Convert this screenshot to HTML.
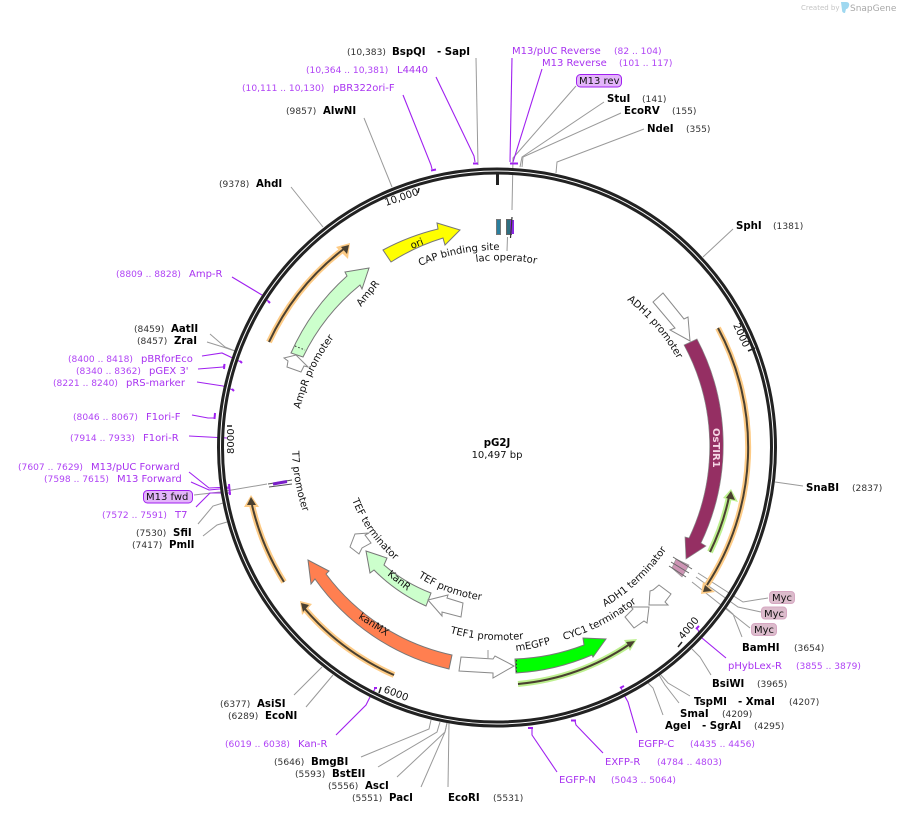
<!DOCTYPE html>
<html><head><meta charset="utf-8"><style>
html,body{margin:0;padding:0;background:#fff}
svg{display:block}
text{font-family:"DejaVu Sans","Liberation Sans",sans-serif;font-size:10px;fill:#111}
.b{font-weight:bold;font-size:10.2px;fill:#000}
.n{font-size:9.1px;fill:#333}
.p{fill:#a832f0}
.pn{font-size:9.1px;fill:#b044f5}
.g{fill:none;stroke:#999;stroke-width:1}
.v{fill:none;stroke:#a020f0;stroke-width:1.1}
.m{fill:none;stroke:#a020f0;stroke-width:2}
.w{fill:#fff;stroke:#8a8a8a;stroke-width:1}
.o{fill:none;stroke:#fdcb86;stroke-width:6}
.d{fill:none;stroke:#4a4030;stroke-width:2}
.lg{fill:none;stroke:#bdf08f;stroke-width:6}
</style></head><body>
<svg width="898" height="814" viewBox="0 0 898 814" xmlns="http://www.w3.org/2000/svg">
<rect width="898" height="814" fill="#fff"/>

<!-- branding -->
<text x="801" y="10" style="font-size:7px;fill:#c4c4c4">Created by</text>
<path d="M841,2 h5 q4,0 3,4 q-1,3 -3,3 l-1,4 q-3,0 -3,-3 z" fill="#9fd8f0"/>
<text x="850" y="11" style="font-size:9px;fill:#a8a8a8">SnapGene</text>

<!-- leader lines (gray) -->
<path class="g" d="M476,58 L478,165"/>
<path class="g" d="M364,118 L392,187"/>
<path class="g" d="M291,187 L323,227"/>
<path class="g" d="M576,86 L513,158 L512,210"/>
<path class="g" d="M604,102 L522,157 L520,167"/>
<path class="g" d="M621,113 L523,157 L522,167"/>
<path class="g" d="M644,129 L557,162 L556,173"/>
<path class="g" d="M733,229 L703,257"/>
<path class="g" d="M803,486 L775,482"/>
<path class="g" d="M768,598 L743,602 L698,573"/>
<path class="g" d="M761,612 L738,607 L696,577"/>
<path class="g" d="M750,628 L692,582"/>
<path class="g" d="M742,637 L733,614 L725,607"/>
<path class="g" d="M711,675 L700,657 L692,649"/>
<path class="g" d="M690,696 L668,683 L660,674"/>
<path class="g" d="M679,703 L665,685 L659,675"/>
<path class="g" d="M663,715 L653,688 L648,683"/>
<path class="g" d="M448,787 L449,723"/>
<path class="g" d="M421,787 L445,732 L447,723"/>
<path class="g" d="M397,777 L445,732 L447,723"/>
<path class="g" d="M378,767 L437,732 L440,722"/>
<path class="g" d="M361,757 L429,729 L431,720"/>
<path class="g" d="M306,707 L333,675"/>
<path class="g" d="M294,695 L322,667"/>
<path class="g" d="M210,334 L225,347 L235,351"/>
<path class="g" d="M207,342 L223,347 L235,351"/>
<path class="g" d="M194,495 L220,492 L267,484"/>
<path class="g" d="M198,524 L213,506 L223,503"/>
<path class="g" d="M203,536 L217,525 L227,522"/>

<!-- leader lines (purple) -->
<path class="v" d="M436,77 L474,156 L475,162"/>
<path class="m" d="M473,163.5 H478"/>
<path class="v" d="M403,95 L431,165 L432,169"/>
<path class="m" d="M431,170.5 L436,169.5"/>
<path class="v" d="M512,58 L510,162"/>
<path class="v" d="M542,69 L513,162"/>
<path class="m" d="M510,163.5 H518"/>
<path class="v" d="M232,277 L262,295 L269,302"/>
<path class="m" d="M268,301 L270,303"/>
<path class="v" d="M202,356 L222,353 L241,362"/>
<path class="m" d="M240,361 L242,363"/>
<path class="v" d="M198,369 L223,367 L225,364"/>
<path class="m" d="M224.500,364 L224,369"/>
<path class="v" d="M197,382 L223,386 L233,390"/>
<path class="m" d="M232,389 L234,391"/>
<path class="v" d="M192,415 L208,418 L214,418"/>
<path class="m" d="M215,413 L214.500,419"/>
<path class="v" d="M189,436 L227,438"/>
<path class="v" d="M189,472 L209,488 L230,487"/>
<path class="v" d="M191,482 L209,490 L230,488"/>
<path class="v" d="M196,507 L210,493 L231,493"/>
<path class="m" d="M229,484 L230,495"/>
<path class="v" d="M726,658 L702,638 L697,628"/>
<path class="m" d="M696,629 L699,626"/>
<path class="v" d="M637,733 L628,702 L623,693 L621,687"/>
<path class="m" d="M620,688 L624,686"/>
<path class="v" d="M603,753 L576,725 L575,721"/>
<path class="m" d="M571,720.500 L576,720.500"/>
<path class="v" d="M557,772 L532,735 L532,729"/>
<path class="m" d="M528,728 L533,728"/>
<path class="v" d="M336,735 L366,705 L371,695 L375,689"/>
<path class="m" d="M374,688 L377,688"/>

<!-- backbone -->
<circle cx="497" cy="447.500" r="276.500" fill="none" stroke="#222" stroke-width="7"/>
<circle cx="497" cy="447.500" r="276.500" fill="none" stroke="#fff" stroke-width="1"/>

<!-- ticks -->
<path d="M497.500,173 V185" stroke="#222" stroke-width="3"/>
<path d="M419,188 L418,193 M755,348 L748,351 M682,642 L678,647 M381,687 L379,693 M227,426 L232,426" stroke="#222" stroke-width="1.500"/>
<text transform="translate(386,206) rotate(-19)" style="font-size:10px">10,000</text>
<text transform="translate(733,325) rotate(65)" style="font-size:10px">2000</text>
<text transform="translate(683,640) rotate(-50)" style="font-size:10px">4000</text>
<text transform="translate(383,692) rotate(21)" style="font-size:10px">6000</text>
<text transform="translate(234,454) rotate(-90)" style="font-size:10px">8000</text>

<!-- primer-binding/orange arcs -->
<path class="o" d="M269,342 A251,251 0 0 1 345,248"/>
<path d="M350,243 L336,247 L348,259 Z" fill="#fdcb86"/>
<path class="d" d="M269,342 A251,251 0 0 1 345,248"/>
<path d="M349,245 L341,247 L347,254 Z" fill="#4a4030"/>

<path class="o" d="M718,328 A251,251 0 0 1 707,585"/>
<path d="M701,594 L703,582 L715,592 Z" fill="#fdcb86"/>
<path class="d" d="M718,328 A251,251 0 0 1 707,585"/>
<path d="M703,592 L705,585 L712,591 Z" fill="#4a4030"/>

<path class="o" d="M394,675 A251,251 0 0 1 305,609"/>
<path d="M300,601 L312,604 L302,615 Z" fill="#fdcb86"/>
<path class="d" d="M394,675 A251,251 0 0 1 305,609"/>
<path d="M301,603 L309,605 L303,612 Z" fill="#4a4030"/>

<path class="o" d="M284,582 A251,251 0 0 1 252,505"/>
<path d="M251,495 L259,507 L244,507 Z" fill="#fdcb86"/>
<path class="d" d="M284,582 A251,251 0 0 1 252,505"/>
<path d="M251,497 L256,505 L247,505 Z" fill="#4a4030"/>

<path class="lg" d="M710,552 A238,238 0 0 0 729,497"/>
<path d="M731,489 L738,502 L723,498 Z" fill="#bdf08f"/>
<path class="d" d="M710,552 A238,238 0 0 0 729,497"/>
<path d="M731,491 L735,500 L726,498 Z" fill="#4a4030"/>

<path class="lg" d="M518,684 A238,238 0 0 0 630,644"/>
<path d="M637,639 L624,640 L630,651 Z" fill="#bdf08f"/>
<path class="d" d="M518,684 A238,238 0 0 0 630,644"/>
<path d="M635,641 L626,642 L630,648 Z" fill="#4a4030"/>

<!-- main features -->
<path d="M697,339 A227,227 0 0 1 701,543 L706,546 L686,559 L685,537 L689,538 A213,213 0 0 0 684,345 Z" fill="#952f63" stroke="#888" stroke-width=".7"/>
<text transform="translate(713,428) rotate(90)" style="font-size:10px;fill:#f5d5e5;font-weight:bold">OsTIR1</text>

<path d="M383,250 A228,228 0 0 1 438,229 L437,223 L460,230 L445,245 L443,238 A214,214 0 0 0 391,262 Z" fill="#ffff00" stroke="#777" stroke-width="1"/>
<text transform="translate(412,249) rotate(-22)" style="font-size:10px">ori</text>

<path d="M291,353 A226,226 0 0 1 347,276 L345,272 L369,268 L362,289 L360,285 A212,212 0 0 0 303,357 Z" fill="#ccffcc" stroke="#777" stroke-width="1"/>
<path d="M295,346 L305,350" stroke="#333" stroke-width="1" stroke-dasharray="1.500,2" fill="none"/>
<text transform="translate(361,307) rotate(-51)" style="font-size:10px">AmpR</text>

<path d="M452,655 A213,213 0 0 1 326,574 L329,571 L308,560 L311,584 L315,579 A226,226 0 0 0 449,669 Z" fill="#ff7f50" stroke="#777" stroke-width="1"/>
<text transform="translate(358,618) rotate(33)" style="font-size:10px">kanMX</text>

<path d="M431,593 A160,160 0 0 1 384,565 L387,558 L366,551 L370,573 L374,570 A174,174 0 0 0 426,606 Z" fill="#ccffcc" stroke="#777" stroke-width="1"/>
<text transform="translate(387,575) rotate(38)" style="font-size:10px">KanR</text>

<path d="M516,673 A226,226 0 0 0 592,655 L593,657 L606,639 L583,638 L584,645 A213,213 0 0 1 515,659 Z" fill="#00ff00" stroke="#777" stroke-width="1"/>
<path d="M516.500,660 V673" stroke="#333" stroke-width="1" stroke-dasharray="1.500,2" fill="none"/>

<!-- white arrows -->
<path class="w" d="M461,657 L459,671 L493,673 L493,678 L514,666 L495,656 L493,659 Z"/>
<path class="w" d="M663,293 L653,302 L675,328 L670,330 L690,341 L688,317 L684,319 Z"/>
<path class="w" d="M287,367 L301,372 L304,366 L308,367 L296,355 L284,358 L288,361 Z"/>
<path class="w" d="M355,534 L350,547 L359,554 L362,548 L371,543 L365,535 L369,533 Z"/>
<path class="w" d="M428,600 L448,595 L447,598 L463,603 L461,617 L442,612 L442,616 Z"/>
<path class="w" d="M649,605 L650,591 L653,590 L659,585 L671,594 L665,602 L668,605 Z"/>
<path class="w" d="M649,607 L647,623 L644,621 L634,628 L625,617 L633,609 L631,607 Z"/>
<path class="g" d="M488,650 L488,658"/>

<!-- CAP / lac -->
<rect x="496.500" y="219.500" width="4" height="15" fill="#2a7f9e" stroke="#777" stroke-width="1"/>
<rect x="506.500" y="219.500" width="5" height="15" fill="#2f6f80" stroke="#666" stroke-width="1"/>
<rect x="510" y="220" width="4" height="14" fill="#8a2be2"/>
<path d="M512,217 L510.500,238" stroke="#333" stroke-width="1.200"/>
<path class="g" d="M507.500,237 L507,251"/>

<!-- T7 feature -->
<path d="M268,484 L292,480 M269,487 L292,484" stroke="#555" stroke-width="1"/>
<path d="M273,484 L287,481.500" stroke="#7a20c8" stroke-width="3"/>

<!-- Myc features -->
<path d="M676,559 L689,565 L682,577 L672,568 Z" fill="#cd94b4" stroke="#999" stroke-width=".7"/>
<path d="M673,557 L692,569 M671,562 L689,573 M669,566 L686,577" stroke="#666" stroke-width="1"/>

<!-- curved labels -->
<defs>
<path id="t1" d="M420,266 A197,197 0 0 1 502,250"/>
<path id="t2" d="M476,262 A187,187 0 0 1 542,265"/>
<path id="t3" d="M300,409 A198,198 0 0 1 340,330"/>
<path id="t4" d="M292,451 A206,206 0 0 0 306,520"/>
<path id="t5" d="M352,500 A153,153 0 0 0 402,566"/>
<path id="t6" d="M418,577 A153,153 0 0 0 490,601"/>
<path id="t7" d="M450,633 A193,193 0 0 0 530,638"/>
<path id="t8" d="M516,651 A204,204 0 0 0 556,642"/>
<path id="t9" d="M564,640 A205,205 0 0 0 642,598"/>
<path id="t10" d="M605,607 A194,194 0 0 0 670,544"/>
<path id="t11" d="M627,300 A198,198 0 0 1 683,370"/>
</defs>
<text><textPath href="#t1">CAP binding site</textPath></text>
<text><textPath href="#t2">lac operator</textPath></text>
<text><textPath href="#t3">AmpR promoter</textPath></text>
<text><textPath href="#t4">T7 promoter</textPath></text>
<text><textPath href="#t5">TEF terminator</textPath></text>
<text><textPath href="#t6">TEF promoter</textPath></text>
<text><textPath href="#t7">TEF1 promoter</textPath></text>
<text><textPath href="#t8">mEGFP</textPath></text>
<text><textPath href="#t9">CYC1 terminator</textPath></text>
<text><textPath href="#t10">ADH1 terminator</textPath></text>
<text><textPath href="#t11">ADH1 promoter</textPath></text>

<!-- boxes -->
<rect x="576.500" y="74.500" width="45" height="12.500" rx="4" fill="#e3b5fa" stroke="#a020f0"/>
<text x="579" y="84">M13 rev</text>
<rect x="143.500" y="490.500" width="49" height="12.500" rx="4" fill="#e3b5fa" stroke="#a020f0"/>
<text x="146" y="500">M13 fwd</text>
<g fill="#dcbccc" stroke="#d6a8c2">
<rect x="769.500" y="591.500" width="25" height="12" rx="3.500"/>
<rect x="761.500" y="607" width="25" height="12" rx="3.500"/>
<rect x="751.500" y="623.500" width="25" height="12" rx="3.500"/>
</g>
<text x="772" y="601">Myc</text>
<text x="764" y="617">Myc</text>
<text x="754" y="633">Myc</text>

<!-- center -->
<text x="497" y="446" text-anchor="middle" class="b">pG2J</text>
<text x="497" y="458" text-anchor="middle" style="font-size:10px">10,497 bp</text>

<!-- top labels -->
<text class="n" x="347" y="55">(10,383)</text><text class="b" x="392" y="55">BspQI</text><text class="b" x="437" y="55">- SapI</text>
<text class="pn" x="306" y="73">(10,364 .. 10,381)</text><text class="p" x="397" y="73">L4440</text>
<text class="pn" x="242" y="91">(10,111 .. 10,130)</text><text class="p" x="333" y="91">pBR322ori-F</text>
<text class="n" x="286" y="114">(9857)</text><text class="b" x="323" y="114">AlwNI</text>
<text class="n" x="219" y="187">(9378)</text><text class="b" x="256" y="187">AhdI</text>
<text class="p" x="512" y="54">M13/pUC Reverse</text><text class="pn" x="614" y="54">(82 .. 104)</text>
<text class="p" x="542" y="66">M13 Reverse</text><text class="pn" x="619" y="66">(101 .. 117)</text>
<text class="b" x="607" y="102">StuI</text><text class="n" x="642" y="102">(141)</text>
<text class="b" x="624" y="114">EcoRV</text><text class="n" x="672" y="114">(155)</text>
<text class="b" x="647" y="132">NdeI</text><text class="n" x="686" y="132">(355)</text>
<text class="b" x="736" y="229">SphI</text><text class="n" x="773" y="229">(1381)</text>

<!-- right -->
<text class="b" x="806" y="491">SnaBI</text><text class="n" x="852" y="491">(2837)</text>
<text class="b" x="742" y="651">BamHI</text><text class="n" x="794" y="651">(3654)</text>
<text class="p" x="728" y="669">pHybLex-R</text><text class="pn" x="796" y="669">(3855 .. 3879)</text>
<text class="b" x="712" y="687">BsiWI</text><text class="n" x="757" y="687">(3965)</text>
<text class="b" x="694" y="705">TspMI</text><text class="b" x="738" y="705">- XmaI</text><text class="n" x="789" y="705">(4207)</text>
<text class="b" x="680" y="717">SmaI</text><text class="n" x="722" y="717">(4209)</text>
<text class="b" x="665" y="729">AgeI</text><text class="b" x="702" y="729">- SgrAI</text><text class="n" x="754" y="729">(4295)</text>
<text class="p" x="638" y="747">EGFP-C</text><text class="pn" x="690" y="747">(4435 .. 4456)</text>
<text class="p" x="605" y="765">EXFP-R</text><text class="pn" x="657" y="765">(4784 .. 4803)</text>
<text class="p" x="559" y="783">EGFP-N</text><text class="pn" x="611" y="783">(5043 .. 5064)</text>

<!-- bottom -->
<text class="b" x="448" y="801">EcoRI</text><text class="n" x="493" y="801">(5531)</text>
<text class="n" x="352" y="801">(5551)</text><text class="b" x="389" y="801">PacI</text>
<text class="n" x="328" y="789">(5556)</text><text class="b" x="365" y="789">AscI</text>
<text class="n" x="295" y="777">(5593)</text><text class="b" x="332" y="777">BstEII</text>
<text class="n" x="274" y="765">(5646)</text><text class="b" x="311" y="765">BmgBI</text>
<text class="pn" x="225" y="747">(6019 .. 6038)</text><text class="p" x="298" y="747">Kan-R</text>
<text class="n" x="228" y="719">(6289)</text><text class="b" x="265" y="719">EcoNI</text>
<text class="n" x="220" y="707">(6377)</text><text class="b" x="257" y="707">AsiSI</text>

<!-- left -->
<text class="pn" x="116" y="277">(8809 .. 8828)</text><text class="p" x="189" y="277">Amp-R</text>
<text class="n" x="134" y="332">(8459)</text><text class="b" x="171" y="332">AatII</text>
<text class="n" x="137" y="344">(8457)</text><text class="b" x="174" y="344">ZraI</text>
<text class="pn" x="68" y="362">(8400 .. 8418)</text><text class="p" x="141" y="362">pBRforEco</text>
<text class="pn" x="76" y="374">(8340 .. 8362)</text><text class="p" x="149" y="374">pGEX 3'</text>
<text class="pn" x="53" y="386">(8221 .. 8240)</text><text class="p" x="126" y="386">pRS-marker</text>
<text class="pn" x="73" y="420">(8046 .. 8067)</text><text class="p" x="146" y="420">F1ori-F</text>
<text class="pn" x="70" y="441">(7914 .. 7933)</text><text class="p" x="143" y="441">F1ori-R</text>
<text class="pn" x="18" y="470">(7607 .. 7629)</text><text class="p" x="91" y="470">M13/pUC Forward</text>
<text class="pn" x="44" y="482">(7598 .. 7615)</text><text class="p" x="117" y="482">M13 Forward</text>
<text class="pn" x="102" y="518">(7572 .. 7591)</text><text class="p" x="175" y="518">T7</text>
<text class="n" x="136" y="536">(7530)</text><text class="b" x="173" y="536">SfiI</text>
<text class="n" x="132" y="548">(7417)</text><text class="b" x="169" y="548">PmlI</text>
</svg>
</body></html>
